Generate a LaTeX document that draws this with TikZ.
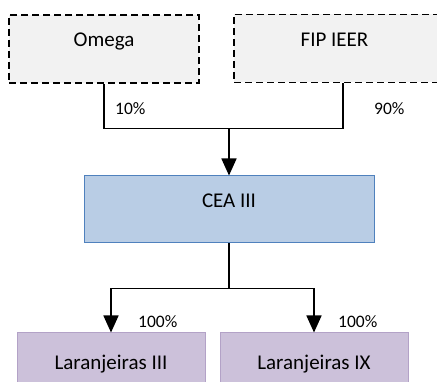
\documentclass[tikz,border=0pt]{standalone}
\usepackage{fontspec}
\setmainfont{Carlito}
\usetikzlibrary{arrows.meta, positioning}

\definecolor{fundfill}{HTML}{F2F2F2}
\definecolor{ceafill}{HTML}{B9CDE5}
\definecolor{ceaedge}{HTML}{4F81BD}
\definecolor{parkfill}{HTML}{CCC1DA}
\definecolor{parkedge}{HTML}{B3A2C7}

\begin{document}
\begin{tikzpicture}[x=1pt,y=-1pt,
  box/.style={rectangle,inner sep=0pt,text height=14pt,text depth=18pt,
    font=\fontsize{21}{25}\selectfont},
  fund/.style={box,draw,fill=fundfill,line width=1.6pt,dash pattern=on 7pt off 4pt,minimum height=68pt},
  holding/.style={box,draw=ceaedge,fill=ceafill,line width=1pt,minimum width=290pt,minimum height=67pt},
  park/.style={box,draw=parkedge,fill=parkfill,line width=1pt,text depth=7pt,minimum width=188pt,minimum height=67pt},
  share/.style={inner sep=0pt,anchor=base west,font=\fontsize{17.5}{21}\selectfont},
  link/.style={line width=1.6pt},
  arrow/.style={link,-{Triangle[width=15pt,length=17pt]}}]
\useasboundingbox (0,0) rectangle (437,382);
\clip (0,0) rectangle (437,382);

% Shareholders
\node[fund,minimum width=190pt] (omega) at (104,49) {Omega};
\node[fund,minimum width=212pt] (fip) at (340,48.5) {FIP IEER\hspace*{11pt}};

% Holding
\node[holding] (cea) at (229,209.5) {CEA III};

% Wind farms
\node[park] (lar3) at (111,366.5) {Laranjeiras III};
\node[park] (lar9) at (314,366.5) {Laranjeiras IX};

\coordinate (top) at (229,128.5);
\coordinate (split) at (229,288.5);

\draw[link] (omega.south) |- (top) -| ([xshift=3pt]fip.south);
\draw[arrow] (top) -- (cea);
\draw[link] (cea) -- (split);
\draw[arrow] (split) -| (lar3);
\draw[arrow] (split) -| (lar9);

\node[share] (pomega) at (115,115) {10\%};
\node[share] (pfip) at (374,115) {90\%};
\node[share] (plar3) at (138,328) {100\%};
\node[share] (plar9) at (338,328) {100\%};
\end{tikzpicture}
\end{document}
